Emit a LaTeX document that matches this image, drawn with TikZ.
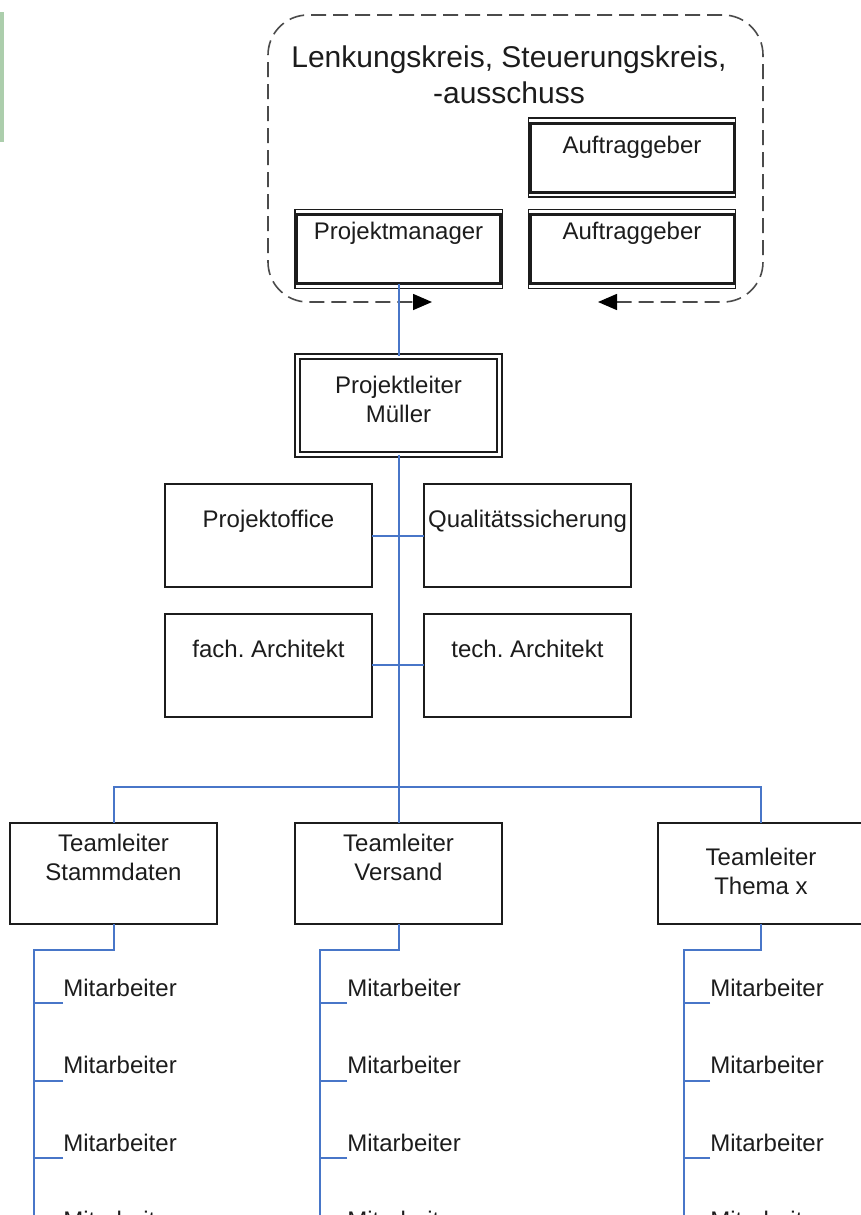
\documentclass[tikz,border=0pt]{standalone}
\usepackage{fontspec}
\setmainfont{Liberation Sans}
\usetikzlibrary{arrows.meta}
\definecolor{linkblue}{RGB}{72,118,200}
\definecolor{inkgray}{RGB}{28,28,28}
\definecolor{framegray}{RGB}{75,75,75}
\definecolor{sidegreen}{RGB}{172,206,172}
\frenchspacing
\begin{document}
\begin{tikzpicture}[x=0.5pt,y=-0.5pt,
  box/.style={draw=inkgray, line width=1pt, fill=white, minimum width=103.5pt,
    minimum height=51.5pt, inner sep=0pt, outer sep=0pt},
  teambox/.style={box, minimum height=50.5pt},
  dbox/.style={draw=inkgray, line width=1.5pt, fill=white, minimum width=102pt,
    minimum height=34.5pt, inner sep=0pt, outer sep=0pt},
  dboxrim/.style={draw=inkgray, line width=0.6pt},
  leadbox/.style={draw=inkgray, line width=0.9pt, double=white, double distance=1.5pt,
    minimum width=101.2pt, minimum height=49.2pt, inner sep=0pt, outer sep=0pt},
  lbl/.style={font=\fontsize{12}{14.5}\selectfont, text=inkgray, inner sep=0pt,
    align=center, anchor=base},
  heading/.style={font=\fontsize{15}{18}\selectfont, text=inkgray, inner sep=0pt,
    align=center, anchor=base},
  mit/.style={font=\fontsize{12}{14.5}\selectfont, text=inkgray, anchor=south west,
    inner xsep=0pt, inner ysep=3pt},
  conn/.style={draw=linkblue, line width=1pt},
  committee/.style={draw=framegray, line width=0.8pt, dash pattern=on 7.5pt off 3.5pt,
    rounded corners=20pt,
    {Triangle[length=9.5pt,width=8pt,color=black]}-{Triangle[length=9.5pt,width=8pt,color=black]}},
]
\useasboundingbox (0,0) rectangle (861,1215);

% side marker
\fill[sidegreen] (0,12) rectangle (4,142);

% steering committee frame with its two arrow ends
\coordinate (ar1) at (432,302);
\coordinate (ar2) at (598,302);
\draw[committee] (ar2) -- (763,302) -- (763,15) -- (268,15) -- (268,302) -- (ar1);
% multi-line labels are anchored at the baseline of their last line
\node[heading] (ttl) at (509,103) {Lenkungskreis, Steuerungskreis,\\-ausschuss};

% committee members
\node[dbox] (ag1) at (632,157.5) {};
\node[dbox] (ag2) at (632,249) {};
\node[dbox] (pm) at (398.5,249) {};
\foreach \b in {ag1,ag2,pm}
  \draw[dboxrim] ([xshift=-0.8pt,yshift=2.5pt]\b.north west) rectangle
                 ([xshift=0.8pt,yshift=-2.5pt]\b.south east);
\node[lbl] (ag1t) at ([yshift=-15pt]ag1.north) {Auftraggeber};
\node[lbl] (ag2t) at ([yshift=-12.5pt]ag2.north) {Auftraggeber};
\node[lbl] (pmt) at ([yshift=-12.5pt]pm.north) {Projektmanager};

% project lead
\node[leadbox] (pl) at (398.5,405.5) {};
\node[lbl] (plt) at ([yshift=-33.3pt]pl.north) {Projektleiter\\Müller};

% staff functions
\node[box] (po) at (268.5,535.5) {};
\node[box] (qs) at (527.5,535.5) {};
\node[box] (fa) at (268.5,665) {};
\node[box] (ta) at (527.5,665) {};
\node[lbl] (pot) at ([yshift=-21.5pt]po.north) {Projektoffice};
\node[lbl] (qst) at ([yshift=-21.5pt]qs.north) {Qualitätssicherung};
\node[lbl] (fat) at ([yshift=-22pt]fa.north) {fach. Architekt};
\node[lbl] (tat) at ([yshift=-22pt]ta.north) {tech. Architekt};

% team leads
\node[teambox] (t1) at (113.5,873.5) {};
\node[teambox] (t2) at (398.5,873.5) {};
\node[teambox] (t3) at (761,873.5) {};
\node[lbl] (t1t) at ([yshift=-28.5pt]t1.north) {Teamleiter\\Stammdaten};
\node[lbl] (t2t) at ([yshift=-28.5pt]t2.north) {Teamleiter\\Versand};
\node[lbl] (t3t) at ([yshift=-35.5pt]t3.north) {Teamleiter\\Thema x};

% reporting lines
\draw[conn] (pm.south) -- (pl.north);
\draw[conn] (pl.south) -- (t2.north);
\draw[conn] (po.east) -- (qs.west);
\draw[conn] (fa.east) -- (ta.west);
\coordinate (bus) at (0,787);
\draw[conn] (t1.north) -- (t1.north |- bus) -- (t3.north |- bus) -- (t3.north);

% team members
\foreach \c/\sx/\tx in {t1/34/63, t2/320/347, t3/684/710} {
  \coordinate (\c k) at (\sx,950);
  \coordinate (\c e) at (\sx,1220);
  \draw[conn] (\c.south) |- (\c k) -- (\c e);
  \foreach \i in {0,...,3} {
    \node[mit] (\c m\i) at (\tx,{1003+77.5*\i}) {Mitarbeiter};
    \draw[conn] (\c m\i.south west) -- (\c m\i.south west -| \c k);
  }
}
\end{tikzpicture}
\end{document}
